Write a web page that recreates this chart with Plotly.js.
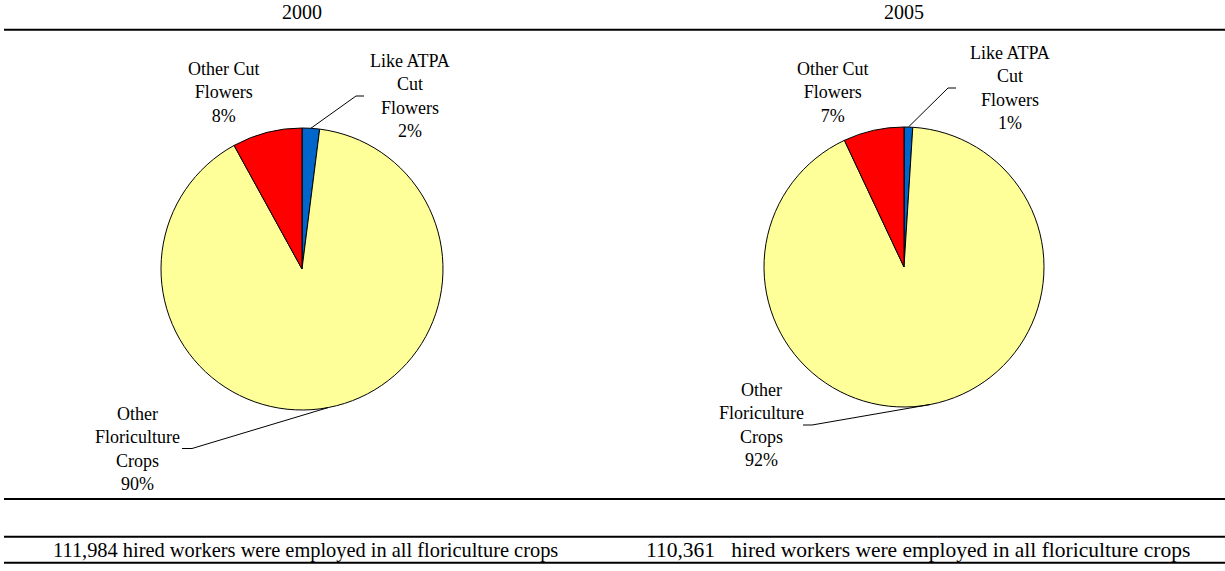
<!DOCTYPE html>
<html>
<head>
<meta charset="utf-8">
<script src="https://cdn.plot.ly/plotly-3.0.1.min.js"></script>
<style>html,body{margin:0;padding:0;background:#fff;}#chart{width:1225px;height:571px;}</style>
</head>
<body>
<div id="chart"></div>
<script>
// ---- data ----
const years = ['2000', '2005'];
const categories = ['Like ATPA Cut Flowers', 'Other Floriculture Crops', 'Other Cut Flowers'];
const labelLines = ['Like ATPA<br>Cut<br>Flowers', 'Other<br>Floriculture<br>Crops', 'Other Cut<br>Flowers'];
const shares2000 = [2, 90, 8];
const shares2005 = [1, 92, 7];
const hiredWorkers = ['111,984 ', '110,361\u00a0\u00a0 '];
const sliceColors = ['#0066CC', '#FFFF99', '#FF0000'];

// ---- layout geometry (pixels) ----
const W = 1225, H = 571;
const FONT = '"Liberation Serif", "Times New Roman", Times, serif';
const pies = [
  {cx: 302, cy: 269, r: 141, footerX: 51, footerSize: 20.4,
   labels: [{dx: 108, dy: -173, leaderEnd: -46, elbow: -8},
            {dx: -165, dy: 179.5, leaderEnd: 45, elbow: 10},
            {dx: -78, dy: -176, leaderEnd: null}]},
  {cx: 904, cy: 267, r: 140, footerX: 644, footerSize: 21.5,
   labels: [{dx: 106, dy: -179, leaderEnd: -54, elbow: -8},
            {dx: -143, dy: 158, leaderEnd: 42, elbow: 9},
            {dx: -71, dy: -174, leaderEnd: null}]}
];
const px = x => x / W;
const py = y => 1 - y / H;

const seriesList = [shares2000, shares2005];
const data = [];
const annotations = [];
const shapes = [];

seriesList.forEach((vals, i) => {
  const g = pies[i];
  data.push({
    type: 'pie',
    values: vals,
    labels: categories,
    sort: false,
    direction: 'clockwise',
    rotation: 0,
    textinfo: 'none',
    hoverinfo: 'label+percent',
    marker: {colors: sliceColors, line: {color: '#000', width: 1}},
    domain: {x: [px(g.cx - g.r), px(g.cx + g.r)], y: [py(g.cy + g.r), py(g.cy - g.r)]},
    showlegend: false
  });
  annotations.push({text: years[i], xref: 'paper', yref: 'paper', x: px(g.cx), y: py(12),
    xanchor: 'center', yanchor: 'middle', showarrow: false, font: {family: FONT, size: 20, color: '#000'}});
  annotations.push({text: hiredWorkers[i] + 'hired workers were employed in all floriculture crops',
    xref: 'paper', yref: 'paper', x: px(g.footerX), y: py(550),
    xanchor: 'left', yanchor: 'middle', showarrow: false, font: {family: FONT, size: g.footerSize, color: '#000'}});
  const total = vals.reduce((a, b) => a + b, 0);
  let cum = 0;
  vals.forEach((v, k) => {
    const mid = (cum + v / 2) / total * 2 * Math.PI;
    cum += v;
    const L = g.labels[k];
    const lx = g.cx + L.dx, ly = g.cy + L.dy;
    const pct = Math.round(v / total * 100) + '%';
    annotations.push({text: labelLines[k] + '<br>' + pct, xref: 'paper', yref: 'paper',
      x: px(lx), y: py(ly), xanchor: 'center', yanchor: 'middle', align: 'center', showarrow: false,
      font: {family: FONT, size: 18, color: '#000'}});
    if (L.leaderEnd !== null) {
      const sx = g.cx + g.r * Math.sin(mid), sy = g.cy - g.r * Math.cos(mid);
      const ex = lx + L.leaderEnd, elx = ex + L.elbow;
      shapes.push({type: 'line', xref: 'paper', yref: 'paper', x0: px(sx), y0: py(sy), x1: px(elx), y1: py(ly),
        line: {color: '#000', width: 1}});
      shapes.push({type: 'line', xref: 'paper', yref: 'paper', x0: px(elx), y0: py(ly), x1: px(ex), y1: py(ly),
        line: {color: '#000', width: 1}});
    }
  });
});

[29.7, 499, 536.7, 562.7].forEach(y => {
  shapes.push({type: 'line', xref: 'paper', yref: 'paper', x0: px(4), x1: 1, y0: py(y), y1: py(y),
    line: {color: '#000', width: 2}});
});

Plotly.newPlot('chart', data, {
  width: W, height: H,
  margin: {l: 0, r: 0, t: 0, b: 0},
  font: {family: FONT, color: '#000'},
  paper_bgcolor: '#fff', plot_bgcolor: '#fff',
  annotations: annotations, shapes: shapes
}, {displayModeBar: false, staticPlot: true});
</script>
</body>
</html>
